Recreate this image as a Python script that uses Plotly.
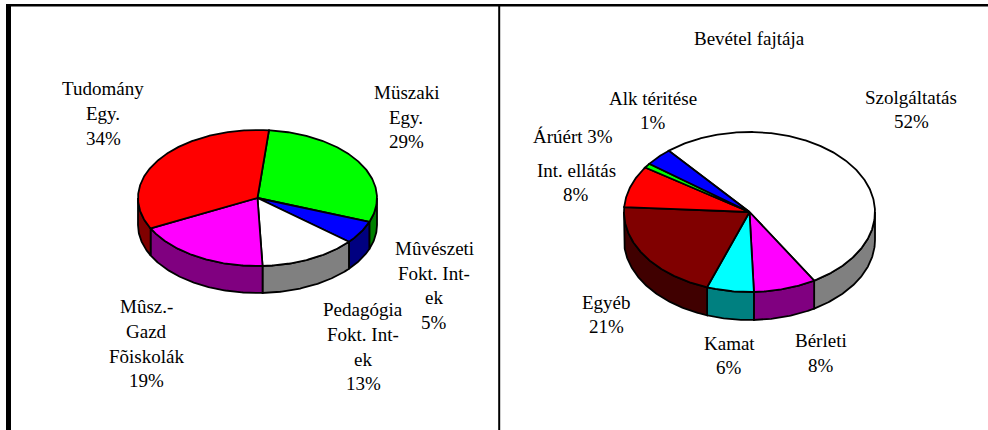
import numpy as np
import plotly.graph_objects as go

# ---- data ----
left_names = ["Müszaki Egy.", "Mûvészeti Fokt. Int-ek", "Pedagógia Fokt. Int-ek", "Mûsz.-Gazd Fõiskolák", "Tudomány Egy."]
left_values = [29.2, 5.4, 13.2, 18.3, 33.9]
left_top = ["#00ff00", "#0000ff", "#ffffff", "#ff00ff", "#ff0000"]
left_side = ["#008000", "#000080", "#808080", "#800080", "#800000"]

right_names = ["Szolgáltatás", "Bérleti", "Kamat", "Egyéb", "Int. ellátás", "Alk téritése", "Árúért"]
right_values = [52.5, 8.05, 6.05, 20.5, 8.4, 0.9, 3.6]
right_top = ["#ffffff", "#ff00ff", "#00ffff", "#800000", "#ff0000", "#00ff00", "#0000ff"]
right_side = ["#808080", "#800080", "#008080", "#400000", "#800000", "#008000", "#000080"]

left_labels = [
    (["Tudomány", "Egy.", "34%"], 103, [89, 114, 139]),
    (["Müszaki", "Egy.", "29%"], 406, [93, 118, 142]),
    (["Mûvészeti", "Fokt. Int-", "ek", "5%"], 434, [249, 274, 298, 323]),
    (["Pedagógia", "Fokt. Int-", "ek", "13%"], 363, [310, 335, 360, 384]),
    (["Mûsz.-", "Gazd", "Fõiskolák", "19%"], 146, [307, 332, 357, 381]),
]
right_labels = [
    (["Bevétel fajtája"], 749, [39]),
    (["Szolgáltatás", "52%"], 911, [98, 122]),
    (["Alk téritése", "1%"], 653, [99, 123]),
    (["Árúért 3%"], 573, [137]),
    (["Int. ellátás", "8%"], 576, [171, 195]),
    (["Egyéb", "21%"], 606, [303, 327]),
    (["Kamat", "6%"], 729, [344, 368]),
    (["Bérleti", "8%"], 821, [341, 366]),
]

FONT = "Liberation Serif"
FS = 19
W, H = 988, 430
LW = 1.8


def arc(cx, cy, rx, ry, a, b):
    n = max(2, int(abs(b - a) * 1.5) + 2)
    t = np.radians(np.linspace(a, b, n))
    return cx + rx * np.sin(t), cy - ry * np.cos(t)


def pie3d(fig, values, tops, sides, names, cx, cy, rx, ry, depth, start):
    v = np.array(values, dtype=float)
    edges = start + np.concatenate([[0], np.cumsum(v)]) / v.sum() * 360
    # sides: visible front half only (90..270 degrees, repeated over a full turn)
    for i in range(len(v)):
        for off in (0, 360, -360):
            a = max(edges[i], 90 + off)
            b = min(edges[i + 1], 270 + off)
            if b <= a:
                continue
            x, y = arc(cx, cy, rx, ry, a, b)
            xs = np.concatenate([x, x[::-1], x[:1]])
            ys = np.concatenate([y, y[::-1] + depth, y[:1]])
            fig.add_trace(go.Scatter(x=xs, y=ys, mode="lines", fill="toself", fillcolor=sides[i],
                                     line=dict(color="black", width=LW), name=names[i],
                                     hoverinfo="name", showlegend=False))
    for i in range(len(v)):
        x, y = arc(cx, cy, rx, ry, edges[i], edges[i + 1])
        xs = np.concatenate([[cx], x, [cx]])
        ys = np.concatenate([[cy], y, [cy]])
        fig.add_trace(go.Scatter(x=xs, y=ys, mode="lines", fill="toself", fillcolor=tops[i],
                                 line=dict(color="black", width=LW), name=names[i],
                                 hoverinfo="name", showlegend=False))


fig = go.Figure()
pie3d(fig, left_values, left_top, left_side, left_names, 257.5, 198, 119.5, 68, 27, 5.5)
pie3d(fig, right_values, right_top, right_side, right_names, 749.5, 212, 125.5, 80, 28, -40)

annotations = []
for lines, x, ys in left_labels + right_labels:
    for s, y in zip(lines, ys):
        annotations.append(dict(x=x, y=y, xref="x", yref="y", text=s, showarrow=False,
                                xanchor="center", yanchor="middle", yshift=1,
                                font=dict(family=FONT, size=FS, color="black")))

shapes = [
    dict(type="line", xref="x", yref="y", x0=8.5, x1=8.5, y0=4, y1=430, line=dict(color="black", width=5)),
    dict(type="line", xref="x", yref="y", x0=6, x1=988, y0=5.2, y1=5.2, line=dict(color="black", width=2.4)),
    dict(type="line", xref="x", yref="y", x0=499.2, x1=499.2, y0=4, y1=430, line=dict(color="black", width=2)),
]

fig.update_layout(
    width=W, height=H, margin=dict(l=0, r=0, t=0, b=0),
    paper_bgcolor="white", plot_bgcolor="white", showlegend=False,
    xaxis=dict(range=[0, W], visible=False, fixedrange=True),
    yaxis=dict(range=[H, 0], visible=False, fixedrange=True),
    annotations=annotations, shapes=shapes,
)
fig.write_html("out.html", config={"displayModeBar": False},
               post_script="document.body.style.margin='0';document.body.style.overflow='hidden';")
